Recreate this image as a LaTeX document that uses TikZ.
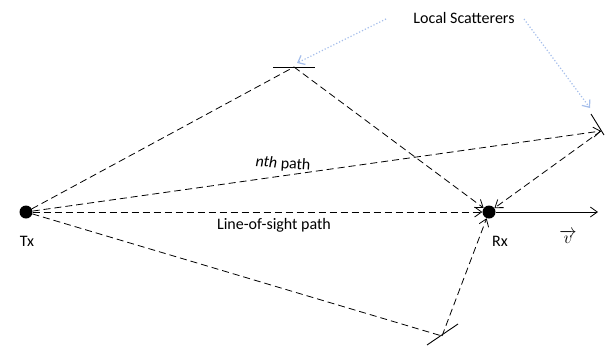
\documentclass[tikz,border=0pt]{standalone}
\usepackage{fontspec}
\setmainfont{Carlito}
\usetikzlibrary{arrows.meta}
\begin{document}
\begin{tikzpicture}[x=1pt,y=-1pt,
  ray/.style={dashed,dash pattern=on 7pt off 4pt,line width=0.8pt},
  rayarrow/.style={ray,-{Straight Barb[length=7pt,width=10pt]}},
  station/.style={circle,fill=black,inner sep=0pt,minimum size=13pt},
  scatterer/.style={line width=0.9pt},
  pointer/.style={draw={rgb,255:red,165;green,190;blue,235},dotted,line width=1.2pt,
    -{Straight Barb[length=6pt,width=10pt]}},
  lbl/.style={font=\fontsize{16}{18}\selectfont,inner sep=1pt}]
\useasboundingbox (0,0) rectangle (605,346);
% transmitter, receiver and scattering points
\node[station] (tx) at (26,212) {};
\node[station] (rx) at (489,212) {};
\coordinate (s1) at (294,67);
\coordinate (s2) at (601,131);
\coordinate (s3) at (442,336);
\coordinate (vend) at (598,212);
% scatterer surfaces
\draw[scatterer] (273,67) -- (315,67);
\draw[scatterer] (591,114) -- (604,135);
\draw[scatterer] (427,345) -- (458,324);
% propagation paths
\draw[ray] (tx) -- (s1);
\draw[rayarrow] (s1) -- (rx);
\draw[rayarrow] (tx) -- (s2);
\draw[rayarrow] (s2) -- (rx);
\draw[rayarrow] (tx) -- (rx);
\draw[ray] (tx) -- (s3);
\draw[rayarrow] (s3) -- (rx);
% velocity of the receiver
\draw[line width=0.8pt,-{Straight Barb[length=7pt,width=10pt]}] (rx) -- (vend);
% labels
\node[lbl] (txl) at (27,241) {Tx};
\node[lbl] (rxl) at (500,241) {Rx};
\node[font=\fontsize{18}{20}\selectfont,inner sep=0pt] (vl) at (568,237) {$\overrightarrow{v}$};
\node[lbl,rotate=-4] (nth) at (283,164) {\textit{nth} path};
\node[lbl] (los) at (274,225) {Line-of-sight path};
\node[lbl] (ls) at (464,18) {Local Scatterers};
\draw[pointer] (386,19) -- (297,63);
\draw[pointer] (524,19) -- (590,108);
\end{tikzpicture}
\end{document}
